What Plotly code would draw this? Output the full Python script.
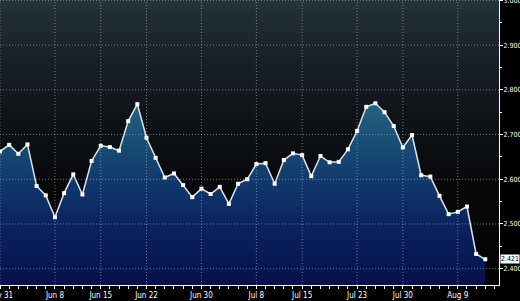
import plotly.graph_objects as go

# ---- data ----
values = [2.662, 2.677, 2.657, 2.678, 2.585, 2.564, 2.515, 2.569, 2.611, 2.566,
          2.641, 2.675, 2.672, 2.664, 2.730, 2.768, 2.693, 2.648, 2.604, 2.613,
          2.587, 2.560, 2.579, 2.567, 2.583, 2.545, 2.590, 2.600, 2.634, 2.636,
          2.590, 2.643, 2.658, 2.654, 2.607, 2.652, 2.638, 2.639, 2.667, 2.708,
          2.762, 2.770, 2.750, 2.719, 2.671, 2.699, 2.609, 2.606, 2.563, 2.522,
          2.527, 2.539, 2.433, 2.421]
tick_positions = [0, 6, 11, 16, 22, 28, 33, 39, 44, 50]
tick_labels = ["May 31", "Jun 8", "Jun 15", "Jun 22", "Jun 30", "Jul 8",
               "Jul 15", "Jul 23", "Jul 30", "Aug 9"]
y_ticks = [2.4, 2.5, 2.6, 2.7, 2.8, 2.9, 3.0]
y_labels = ["2.400", "2.500", "2.600", "2.700", "2.800", "2.900", "3.000"]
last_label = "2.421"

x = list(range(len(values)))
X_RANGE = [0, 54.5]
Y_RANGE = [2.3635, 3.001]

FONT = "Liberation Sans Narrow, DejaVu Sans Condensed, Arial Narrow, sans-serif"

fig = go.Figure()

# background gradient panel
fig.add_trace(go.Scatter(
    x=[X_RANGE[0], X_RANGE[1], X_RANGE[1], X_RANGE[0], X_RANGE[0]],
    y=[Y_RANGE[0], Y_RANGE[0], Y_RANGE[1], Y_RANGE[1], Y_RANGE[0]],
    mode="none", fill="toself", hoverinfo="skip", showlegend=False,
    fillgradient=dict(type="vertical", start=Y_RANGE[0], stop=Y_RANGE[1],
                      colorscale=[[0, "#020203"], [0.35, "#07080a"],
                                  [0.6, "#101419"], [0.8, "#182128"],
                                  [0.95, "#212d35"], [1, "#27353d"]]),
))

# area series
fig.add_trace(go.Scatter(
    x=x, y=values, mode="lines+markers", fill="tozeroy",
    line=dict(color="#dfe3ea", width=1.5),
    marker=dict(symbol="square", size=4, color="#ffffff"),
    fillgradient=dict(type="vertical", start=Y_RANGE[0], stop=2.78,
                      colorscale=[[0, "#06114a"], [0.33, "#0a2460"],
                                  [0.57, "#113a6c"], [0.81, "#1a5276"],
                                  [1, "#236683"]]),
    showlegend=False, hoverinfo="skip",
))

GRID = dict(color="rgba(175,185,195,0.6)", width=1, dash="1px,2px")
# dotted gridlines drawn above the fill
for tp in tick_positions:
    fig.add_shape(type="line", xref="x", yref="paper", x0=tp, x1=tp, y0=0, y1=1,
                  line=GRID, layer="above")
for yt in y_ticks:
    fig.add_shape(type="line", xref="paper", yref="y", x0=0, x1=1, y0=yt, y1=yt,
                  line=GRID, layer="above")

# last value tag
fig.add_annotation(x=1, xref="paper", y=values[-1], yref="y", text=last_label,
                   showarrow=False, xanchor="left", yanchor="middle", xshift=1,
                   bgcolor="#ffffff", borderpad=0,
                   font=dict(family=FONT, size=7, color="#000000"))

fig.update_layout(
    width=520, height=301,
    margin=dict(l=0, r=21, t=0, b=16),
    paper_bgcolor="#000000", plot_bgcolor="#000000",
    font=dict(family=FONT, size=8, color="#ffffff"),
    xaxis=dict(range=X_RANGE, tickmode="array", tickvals=tick_positions,
               ticktext=tick_labels, showgrid=False, zeroline=False,
               showline=True, linecolor="#ffffff", linewidth=1,
               ticks="outside", ticklen=3, tickcolor="#ffffff",
               ticklabeloverflow="allow", automargin=False,
               ticklabelstandoff=-1,
               minor=dict(dtick=1, tick0=0, ticks="outside", ticklen=3,
                          tickcolor="#ffffff", showgrid=False),
               tickfont=dict(family=FONT, size=8, color="#ffffff")),
    yaxis=dict(range=Y_RANGE, side="right", tickmode="array", tickvals=y_ticks,
               ticktext=y_labels, showgrid=False, zeroline=False,
               showline=True, linecolor="#ffffff", linewidth=1,
               ticks="outside", ticklen=3, tickcolor="#ffffff",
               ticklabeloverflow="allow", automargin=False,
               ticklabelstandoff=-1,
               minor=dict(dtick=0.05, tick0=2.4, ticks="outside", ticklen=2,
                          tickcolor="#ffffff", showgrid=False),
               tickfont=dict(family=FONT, size=7, color="#ffffff")),
)

fig.write_html("out.html")
